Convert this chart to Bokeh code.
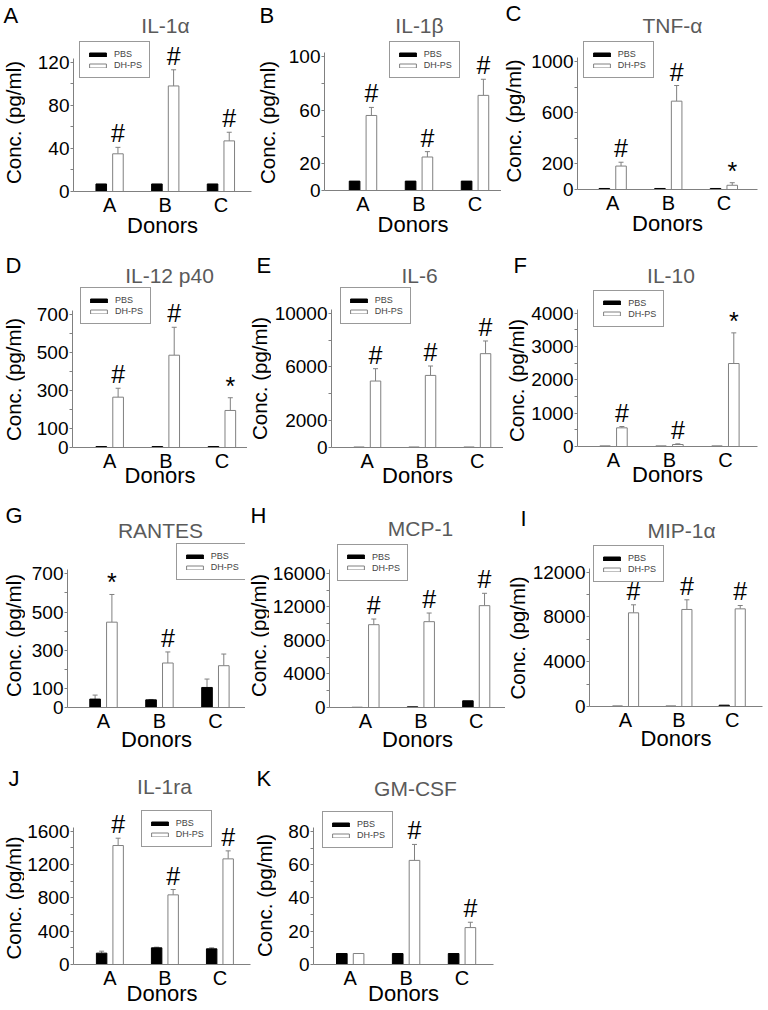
from bokeh.plotting import figure
from bokeh.models import (Range1d, FixedTicker, Label, Legend, LegendItem, Whisker,
                          TeeHead, ColumnDataSource, NumeralTickFormatter)
from bokeh.layouts import row, column
from bokeh.transform import dodge
from bokeh.embed import file_html
from bokeh.resources import INLINE
from bokeh.core.properties import value
import math

FONT = "Liberation Sans"
GRAY = "#808080"
TITLE_GRAY = "#5a5a5a"
BAR_W = 0.19
DODGE = 0.15
BASE_FIX = 7  # upward correction for alphabetic-baseline labels

donor_pos = [1, 2, 3]
donor_labels = ["A", "B", "C"]

# ---------------- data (pg/ml): mean and SEM ----------------
il1a_pbs = [7, 7, 7];          il1a_pbs_sem = [0, 0, 0]
il1a_dh = [35, 98, 47];        il1a_dh_sem = [6, 15, 8]
il1a_sig = ["#", "#", "#"]

il1b_pbs = [7, 7, 7];          il1b_pbs_sem = [0, 0, 0]
il1b_dh = [56, 25, 71];        il1b_dh_sem = [6, 4, 12]
il1b_sig = ["#", "#", "#"]

tnfa_pbs = [8, 8, 8];          tnfa_pbs_sem = [0, 0, 0]
tnfa_dh = [183, 690, 33];      tnfa_dh_sem = [30, 122, 20]
tnfa_sig = ["#", "#", "*"]

il12_pbs = [5, 5, 5];          il12_pbs_sem = [0, 0, 0]
il12_dh = [265, 486, 195];     il12_dh_sem = [47, 147, 67]
il12_sig = ["#", "#", "*"]

il6_pbs = [20, 20, 20];        il6_pbs_sem = [0, 0, 0]
il6_dh = [4950, 5370, 6990];   il6_dh_sem = [920, 700, 945]
il6_sig = ["#", "#", "#"]

il10_pbs = [10, 10, 10];       il10_pbs_sem = [0, 0, 0]
il10_dh = [560, 60, 2490];     il10_dh_sem = [40, 20, 920]
il10_sig = ["#", "#", "*"]

rantes_pbs = [44, 40, 105];    rantes_pbs_sem = [21, 2, 44]
rantes_dh = [447, 233, 219];   rantes_dh_sem = [145, 58, 61]
rantes_sig = ["*", "#", ""]

mcp1_pbs = [20, 80, 800];      mcp1_pbs_sem = [0, 0, 0]
mcp1_dh = [9870, 10230, 12140]; mcp1_dh_sem = [675, 1030, 1470]
mcp1_sig = ["#", "#", "#"]

mip1a_pbs = [30, 30, 120];     mip1a_pbs_sem = [0, 0, 0]
mip1a_dh = [8370, 8670, 8725]; mip1a_dh_sem = [715, 864, 300]
mip1a_sig = ["#", "#", "#"]

il1ra_pbs = [136, 200, 188];   il1ra_pbs_sem = [24, 8, 12]
il1ra_dh = [1428, 836, 1268];  il1ra_dh_sem = [88, 64, 96]
il1ra_sig = ["#", "#", "#"]

gmcsf_pbs = [6.6, 6.6, 6.6];   gmcsf_pbs_sem = [0, 0, 0]
gmcsf_dh = [6.6, 62.6, 22.2];  gmcsf_dh_sem = [0, 9.6, 3.2]
gmcsf_sig = ["", "#", "#"]

# ---------------- panel definitions ----------------
data = [
    dict(letter="A", name="IL-1\u03b1", pbs=il1a_pbs, pbs_sem=il1a_pbs_sem, dh=il1a_dh, dh_sem=il1a_dh_sem, sig=il1a_sig,
         ticks=[0, 40, 80, 120], minor=[20, 60, 100]),
    dict(letter="B", name="IL-1\u03b2", pbs=il1b_pbs, pbs_sem=il1b_pbs_sem, dh=il1b_dh, dh_sem=il1b_dh_sem, sig=il1b_sig,
         ticks=[0, 20, 60, 100], minor=[40, 80]),
    dict(letter="C", name="TNF-\u03b1", pbs=tnfa_pbs, pbs_sem=tnfa_pbs_sem, dh=tnfa_dh, dh_sem=tnfa_dh_sem, sig=tnfa_sig,
         ticks=[0, 200, 600, 1000], minor=[400, 800]),
    dict(letter="D", name="IL-12 p40", pbs=il12_pbs, pbs_sem=il12_pbs_sem, dh=il12_dh, dh_sem=il12_dh_sem, sig=il12_sig,
         ticks=[0, 100, 300, 500, 700], minor=[200, 400, 600]),
    dict(letter="E", name="IL-6", pbs=il6_pbs, pbs_sem=il6_pbs_sem, dh=il6_dh, dh_sem=il6_dh_sem, sig=il6_sig,
         ticks=[0, 2000, 6000, 10000], minor=[4000, 8000]),
    dict(letter="F", name="IL-10", pbs=il10_pbs, pbs_sem=il10_pbs_sem, dh=il10_dh, dh_sem=il10_dh_sem, sig=il10_sig,
         ticks=[0, 1000, 2000, 3000, 4000], minor=[500, 1500, 2500, 3500]),
    dict(letter="G", name="RANTES", pbs=rantes_pbs, pbs_sem=rantes_pbs_sem, dh=rantes_dh, dh_sem=rantes_dh_sem, sig=rantes_sig,
         ticks=[0, 100, 300, 500, 700], minor=[200, 400, 600]),
    dict(letter="H", name="MCP-1", pbs=mcp1_pbs, pbs_sem=mcp1_pbs_sem, dh=mcp1_dh, dh_sem=mcp1_dh_sem, sig=mcp1_sig,
         ticks=[0, 4000, 8000, 12000, 16000], minor=[2000, 6000, 10000, 14000]),
    dict(letter="I", name="MIP-1\u03b1", pbs=mip1a_pbs, pbs_sem=mip1a_pbs_sem, dh=mip1a_dh, dh_sem=mip1a_dh_sem, sig=mip1a_sig,
         ticks=[0, 4000, 8000, 12000], minor=[2000, 6000, 10000]),
    dict(letter="J", name="IL-1ra", pbs=il1ra_pbs, pbs_sem=il1ra_pbs_sem, dh=il1ra_dh, dh_sem=il1ra_dh_sem, sig=il1ra_sig,
         ticks=[0, 400, 800, 1200, 1600], minor=[200, 600, 1000, 1400]),
    dict(letter="K", name="GM-CSF", pbs=gmcsf_pbs, pbs_sem=gmcsf_pbs_sem, dh=gmcsf_dh, dh_sem=gmcsf_dh_sem, sig=gmcsf_sig,
         ticks=[0, 20, 40, 60, 80], minor=[10, 30, 50, 70]),
]

# layout in page pixels: row = (top, bottom, frame top, donors-label standoff)
ROWS = [(0, 248, 38, -6), (248, 500, 287, -12), (500, 760, 543, -8), (760, 1008, 806, -11)]
geom = [
    dict(r=0, cx=(0, 254), sx=25, ax=72.7, fr=251, gA=109.1, gC=220.4, z0=190.7, tT=61.7, leg=(79, 78),
         title=(165, 31.7), letter=(3, 21.7), ylab=(12.5, 122)),
    dict(r=0, cx=(254, 501), sx=280, ax=324.3, fr=501, gA=362.5, gC=474.5, z0=190, tT=56, leg=(388.7, 78.3),
         title=(419, 31.7), letter=(259, 21.7), ylab=(267, 122)),
    dict(r=0, cx=(501, 766), sx=525, ax=576.7, fr=757, gA=612.2, gC=723.4, z0=189.3, tT=61, leg=(582.7, 78.3),
         title=(672, 31.7), letter=(505, 20), ylab=(513, 120.5)),
    dict(r=1, cx=(0, 247), sx=25, ax=71.7, fr=247, gA=109.2, gC=221.4, z0=446.7, tT=314, leg=(80, 324),
         title=(169, 281.7), letter=(5, 271.7), ylab=(12.5, 379)),
    dict(r=1, cx=(247, 503), sx=271, ax=328.7, fr=503, gA=365.2, gC=476.5, z0=446.7, tT=312.7, leg=(337.7, 324),
         title=(419, 281.7), letter=(256, 271.7), ylab=(259, 378)),
    dict(r=1, cx=(503, 766), sx=528, ax=576.7, fr=757, gA=613, gC=724.9, z0=446, tT=312.7, leg=(593.3, 326.7),
         title=(670.5, 281.7), letter=(513, 271.7), ylab=(516, 380)),
    dict(r=2, cx=(0, 245), sx=25, ax=66.7, fr=245, gA=103, gC=214.9, z0=706.7, tT=573.3, leg=(175.7, 580),
         title=(160, 536.7), letter=(5, 522.3), ylab=(13, 635)),
    dict(r=2, cx=(245, 505), sx=269, ax=326.7, fr=505, gA=363.4, gC=475.4, z0=706.7, tT=572.7, leg=(335, 580.7),
         title=(420, 535), letter=(250, 522), ylab=(257.5, 635)),
    dict(r=2, cx=(505, 766), sx=529, ax=581.7, fr=762, gA=619.5, gC=730.5, z0=706, tT=571.7, leg=(586, 582.3),
         title=(681, 536.7), letter=(520, 525), ylab=(517, 637.5)),
    dict(r=3, cx=(0, 252), sx=24, ax=70, fr=250, gA=107, gC=218.9, z0=964, tT=830.7, leg=(137.7, 847.3),
         title=(164, 792.7), letter=(8, 785), ylab=(12.5, 897.5)),
    dict(r=3, cx=(252, 520), sx=276, ax=313.3, fr=493.3, gA=349.7, gC=461.5, z0=964.3, tT=831, leg=(322, 848.3),
         title=(415, 795), letter=(256, 785), ylab=(264, 895)),
]

SIG_OFFSET = {"#": -14, "*": -12}


def px(v):
    return f"{v}px"


def blank_fig(w, h):
    f = figure(width=w, height=h, x_range=Range1d(0, 1), y_range=Range1d(0, 1),
               output_backend="svg", toolbar_location=None, title=None,
               x_axis_location=None, y_axis_location=None, frame_align=False,
               min_border_left=0, min_border_right=0, min_border_top=0, min_border_bottom=0)
    f.outline_line_color = None
    f.xgrid.visible = False
    f.ygrid.visible = False
    f.background_fill_color = "white"
    f.border_fill_color = "white"
    return f


def make_panel(d, g):
    cy0, cy1, ftop, dstand = ROWS[g["r"]]
    cx0, cx1 = g["cx"]
    sx1 = g["sx"]
    ax, fr, gA, gC, z0, tT = g["ax"], g["fr"], g["gA"], g["gC"], g["z0"], g["tT"]

    # left strip: panel letter + y-axis title
    strip = blank_fig(sx1 - cx0, cy1 - cy0)
    lx, ly = g["letter"]
    strip.add_layout(Label(x=lx - cx0, y=cy1 - ly + BASE_FIX, x_units="screen", y_units="screen",
                           text=d["letter"], text_align="left", text_baseline="alphabetic",
                           text_color="black", text_font=FONT, text_font_size=px(22)))
    yx, yy = g["ylab"]
    strip.add_layout(Label(x=yx - cx0, y=cy1 - yy, x_units="screen", y_units="screen", text="Conc. (pg/ml)",
                           angle=math.pi / 2, text_align="center", text_baseline="middle",
                           text_color="black", text_font=FONT, text_font_size=px(20.5)))

    # header: cytokine name
    head = blank_fig(cx1 - sx1, ftop - cy0)
    tx, ty = g["title"]
    head.add_layout(Label(x=tx - sx1, y=ftop - ty + BASE_FIX, x_units="screen", y_units="screen",
                          text=d["name"], text_align="center", text_baseline="alphabetic",
                          text_color=TITLE_GRAY, text_font=FONT, text_font_size=px(21)))

    # plot
    W = cx1 - sx1
    H = cy1 - ftop
    L = round(ax - sx1)
    R = round(cx1 - fr)
    B = round(cy1 - z0)
    sp = (gC - gA) / 2.0
    xs = 1 + (round(ax) - gA) / sp
    xe = 1 + (round(fr) - gA) / sp
    top = d["ticks"][-1]
    yend = top * (z0 - ftop) / (z0 - tT)
    ybound = top * (z0 - tT + 4) / (z0 - tT)

    p = figure(width=W, height=H, x_range=Range1d(xs, xe), y_range=Range1d(0, yend),
               output_backend="svg", toolbar_location=None, title=None, frame_align=False,
               min_border_left=L, min_border_right=R, min_border_top=0, min_border_bottom=B)
    p.outline_line_color = None
    p.xgrid.visible = False
    p.ygrid.visible = False
    p.background_fill_color = "white"
    p.border_fill_color = "white"

    src = ColumnDataSource(dict(x=donor_pos, pbs=d["pbs"], dh=d["dh"]))
    r_pbs = p.vbar(x=dodge("x", -DODGE), top="pbs", bottom=0, width=BAR_W, source=src,
                   fill_color="black", line_color="black", line_width=1)
    r_dh = p.vbar(x=dodge("x", DODGE), top="dh", bottom=0, width=BAR_W, source=src,
                  fill_color="white", line_color=GRAY, line_width=1)

    for vals, sems, off in ((d["pbs"], d["pbs_sem"], -DODGE), (d["dh"], d["dh_sem"], DODGE)):
        xs_e = [x for x, s in zip(donor_pos, sems) if s > 0]
        if not xs_e:
            continue
        lo = [v for v, s in zip(vals, sems) if s > 0]
        up = [v + s for v, s in zip(vals, sems) if s > 0]
        es = ColumnDataSource(dict(x=xs_e, lower=lo, upper=up))
        w = Whisker(source=es, base=dodge("x", off), lower="lower", upper="upper",
                    dimension="height", line_color=GRAY, line_width=1,
                    upper_head=TeeHead(size=5, line_color=GRAY, line_width=1),
                    lower_head=None)
        p.add_layout(w)

    sxs, sys_, st, so = [], [], [], []
    for x, v, s, m in zip(donor_pos, d["dh"], d["dh_sem"], d["sig"]):
        if m:
            sxs.append(x); sys_.append(v + s); st.append(m); so.append(SIG_OFFSET[m])
    ssrc = ColumnDataSource(dict(x=sxs, y=sys_, t=st, o=so))
    p.text(x=dodge("x", DODGE), y="y", text="t", source=ssrc, y_offset="o",
           text_align="center", text_baseline="alphabetic", text_color="black",
           text_font=value(FONT), text_font_size=px(25))

    # axes
    p.xaxis.ticker = FixedTicker(ticks=donor_pos)
    p.xaxis.major_label_overrides = {k: v for k, v in zip(donor_pos, donor_labels)}
    p.xaxis.major_tick_out = 0
    p.xaxis.major_tick_in = 0
    p.xaxis.minor_tick_out = 0
    p.xaxis.minor_tick_in = 0
    p.xaxis.axis_line_color = GRAY
    p.xaxis.major_label_standoff = 2
    p.xaxis.major_label_text_font = FONT
    p.xaxis.major_label_text_font_size = px(20)
    p.xaxis.major_label_text_color = "black"
    p.xaxis.axis_label = "Donors"
    p.xaxis.axis_label_standoff = dstand
    p.xaxis.axis_label_text_font = FONT
    p.xaxis.axis_label_text_font_size = px(22)
    p.xaxis.axis_label_text_font_style = "normal"
    p.xaxis.axis_label_text_color = "black"

    p.yaxis.ticker = FixedTicker(ticks=d["ticks"], minor_ticks=d["minor"])
    p.yaxis.bounds = (0, ybound)
    p.yaxis.formatter = NumeralTickFormatter(format="0")
    p.yaxis.axis_line_color = GRAY
    p.yaxis.major_tick_line_color = GRAY
    p.yaxis.minor_tick_line_color = GRAY
    p.yaxis.major_tick_out = 3
    p.yaxis.major_tick_in = 0
    p.yaxis.minor_tick_out = 3
    p.yaxis.minor_tick_in = 0
    p.yaxis.major_label_standoff = 1
    p.yaxis.major_label_text_font = FONT
    p.yaxis.major_label_text_font_size = px(19)
    p.yaxis.major_label_text_color = "black"

    # legend
    lgx, lgy = g["leg"]
    legend = Legend(items=[LegendItem(label="PBS", renderers=[r_pbs]),
                           LegendItem(label="DH-PS", renderers=[r_dh])],
                    location=(lgx - round(ax), round(z0) - lgy), orientation="vertical",
                    padding=7, spacing=1, margin=0,
                    glyph_width=21, glyph_height=5, label_height=10,
                    label_standoff=6, label_text_font=FONT, label_text_font_size=px(9),
                    label_text_color="#444444", border_line_color="#333333",
                    border_line_width=1, background_fill_color="white", background_fill_alpha=1)
    p.add_layout(legend)

    return row(strip, column(head, p))


panels = [make_panel(d, g) for d, g in zip(data, geom)]
layout = column(row(*panels[0:3]), row(*panels[3:6]), row(*panels[6:9]), row(*panels[9:11]))

open("out.html", "w").write(file_html(layout, INLINE))
